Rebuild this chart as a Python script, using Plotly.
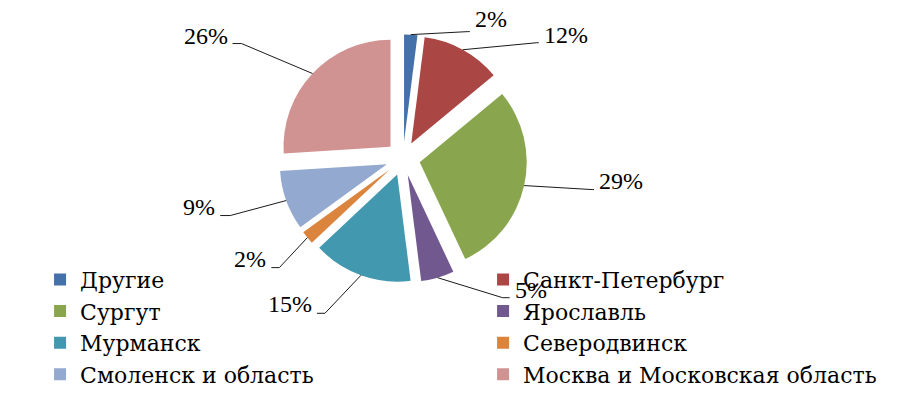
import math
import plotly.graph_objects as go

# ---- data ----
categories = ["Другие", "Санкт-Петербург", "Сургут", "Ярославль",
              "Мурманск", "Северодвинск", "Смоленск и область",
              "Москва и Московская область"]
shares = [2, 12, 29, 5, 15, 2, 9, 26]
percent_labels = ["2%", "12%", "29%", "5%", "15%", "2%", "9%", "26%"]

# ---- style ----
colors = ["#4471A9", "#AA4644", "#89A54E", "#71588F", "#4298AF",
          "#DB843D", "#93A9CF", "#D19392"]
W, H = 921, 398
CX, CY = 403, 158.5          # pie centre (px)
R = 107                      # pie radius (px)
PULL = 0.16
FONT = "Liberation Serif"
LEGEND_FONT = "'DejaVu Serif'"

# label leader styling: (dx, dy) from slice edge to elbow, horizontal tail,
# vertical offset of the text centre from the leader end
label_offsets = [(57, -3), (74, -7), (68, 4), (65, 20),
                 (-36, 38), (-28, 30), (-56, 15), (-71, -30)]
label_tails = [2, 2, 2, 7, -8, -8, -10, -9]
label_text_dy = [-13, -8, -9, -8, -9, -9, -9, -8]

box = 2 * R * (1 + PULL)
dom_x = [(CX - box / 2) / W, (CX + box / 2) / W]
dom_y = [1 - (CY + box / 2) / H, 1 - (CY - box / 2) / H]

fig = go.Figure(go.Pie(
    labels=categories, values=shares, sort=False, direction="clockwise",
    rotation=0, pull=[PULL] * len(shares), textinfo="none",
    marker=dict(colors=colors, line=dict(width=0)),
    domain=dict(x=dom_x, y=dom_y), hoverinfo="label+percent",
))

def px(x):
    return x / W

def py(y):
    return 1 - y / H

total = sum(shares)
cum = 0
shapes, annotations = [], []
for i, v in enumerate(shares):
    mid = (cum + v / 2) / total * 2 * math.pi
    cum += v
    ox = CX + R * (1 + PULL) * math.sin(mid)
    oy = CY - R * (1 + PULL) * math.cos(mid)
    ex = ox + label_offsets[i][0]
    ey = oy + label_offsets[i][1]
    tx = ex + label_tails[i]
    shapes.append(dict(type="line", xref="paper", yref="paper",
                       x0=px(ox), y0=py(oy), x1=px(ex), y1=py(ey),
                       line=dict(color="#1a1a1a", width=1)))
    shapes.append(dict(type="line", xref="paper", yref="paper",
                       x0=px(ex), y0=py(ey), x1=px(tx), y1=py(ey),
                       line=dict(color="#1a1a1a", width=1)))
    right = label_tails[i] > 0
    annotations.append(dict(
        xref="paper", yref="paper", x=px(tx + (3 if right else -3)),
        y=py(ey + label_text_dy[i]), text=percent_labels[i], showarrow=False,
        xanchor="left" if right else "right", yanchor="middle",
        font=dict(family=FONT, size=24, color="black")))

fig.update_layout(
    width=W, height=H,
    margin=dict(l=0, r=0, t=0, b=0, autoexpand=False),
    paper_bgcolor="white", plot_bgcolor="white",
    shapes=shapes, annotations=annotations,
    showlegend=True,
    legend=dict(orientation="h", x=0.0435, xanchor="left", y=0.350,
                yanchor="top", entrywidth=398, traceorder="normal",
                bgcolor="rgba(0,0,0,0)",
                font=dict(family=LEGEND_FONT, size=22, color="black")),
)

fig.write_html("out.html", config={"displayModeBar": False},
               post_script="document.body.style.margin='0';"
                           "document.body.style.overflow='hidden';")
